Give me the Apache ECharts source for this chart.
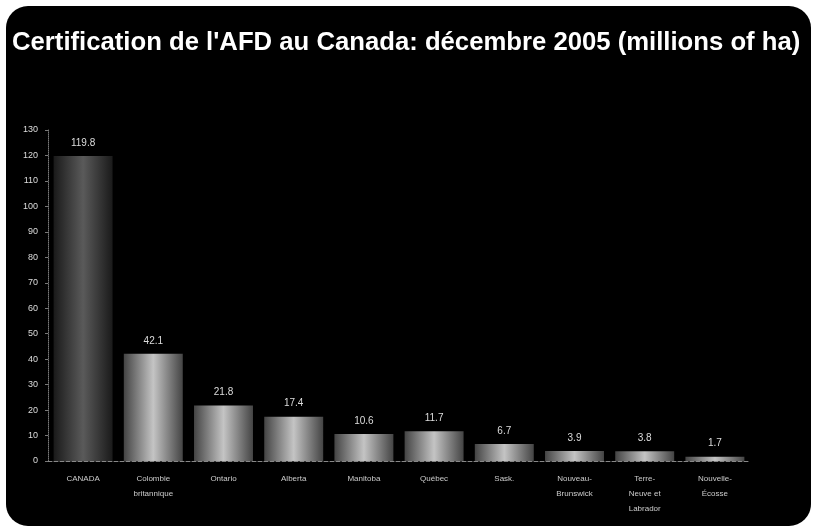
<!DOCTYPE html>
<html>
<head>
<meta charset="utf-8">
<script src="https://cdn.jsdelivr.net/npm/echarts@6/dist/echarts.min.js"></script>
<style>
  html, body { margin: 0; padding: 0; background: #fff; }
  #chart {
    position: absolute; left: 6px; top: 6px;
    width: 805px; height: 520px;
    background: #000; border-radius: 22px;
  }
</style>
</head>
<body>
<div id="chart"></div>
<script>
// provinces and certified area (millions of ha), Dec 2005
const categories = ["CANADA", "Colombie\nbritannique", "Ontario", "Alberta", "Manitoba",
  "Québec", "Sask.", "Nouveau-\nBrunswick", "Terre-\nNeuve et\nLabrador", "Nouvelle-\nÉcosse"]
const values = [119.8, 42.1, 21.8, 17.4, 10.6, 11.7, 6.7, 3.9, 3.8, 1.7]
const yTicks = { min: 0, max: 130, interval: 10 }

const chart = echarts.init(document.getElementById("chart"))

const barFill = new echarts.graphic.LinearGradient(0, 0, 1, 0, [
  { offset: 0, color: "#444" },
  { offset: 0.5, color: "#c4c4c4" },
  { offset: 1, color: "#444" }
])
const canadaFill = new echarts.graphic.LinearGradient(0, 0, 1, 0, [
  { offset: 0, color: "#1a1a1a" },
  { offset: 0.5, color: "#5a5a5a" },
  { offset: 1, color: "#1a1a1a" }
])

chart.setOption({
  backgroundColor: "transparent",
  title: {
    text: "Certification de l'AFD au Canada: décembre 2005 (millions of ha)",
    left: 1,
    top: 19,
    textStyle: {
      color: "#fff",
      fontFamily: "Liberation Sans",
      fontWeight: "bold",
      fontSize: 25.7
    }
  },
  grid: { left: 42, right: 61, top: 124, bottom: 65 },
  xAxis: {
    type: "category",
    data: categories,
    axisLine: { lineStyle: { color: "#888", type: "dashed" } },
    axisTick: { show: false },
    axisLabel: {
      color: "#ccc",
      fontSize: 8,
      fontFamily: "Liberation Sans",
      lineHeight: 15,
      margin: 10,
      interval: 0
    }
  },
  yAxis: {
    type: "value",
    min: yTicks.min,
    max: yTicks.max,
    interval: yTicks.interval,
    axisLine: { show: true, lineStyle: { color: "#777", type: "dotted" } },
    axisTick: { show: true, length: 3, lineStyle: { color: "#777" } },
    splitLine: { show: false },
    axisLabel: {
      color: "#ddd",
      fontSize: 9,
      fontFamily: "Liberation Sans",
      margin: 10
    }
  },
  series: [{
    type: "bar",
    barCategoryGap: "16%",
    data: values.map((v, i) => ({
      value: v,
      itemStyle: { color: i === 0 ? canadaFill : barFill }
    })),
    label: {
      show: true,
      position: "top",
      color: "#ddd",
      fontSize: 10,
      fontFamily: "Liberation Sans",
      distance: 8
    }
  }]
})
</script>
</body>
</html>
